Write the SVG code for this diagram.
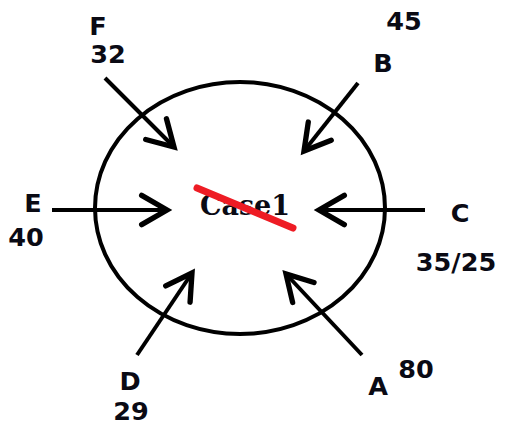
<svg xmlns="http://www.w3.org/2000/svg" width="505" height="426" viewBox="0 0 505 426">
<style>
.lbl{font-family:"DejaVu Sans","Liberation Sans",sans-serif;font-weight:bold;font-size:25.5px;fill:#0a0a14}
.conn{stroke:#000;stroke-width:4;fill:none;marker-end:url(#ah)}
</style>
<defs>
<marker id="ah" markerUnits="userSpaceOnUse" markerWidth="40" markerHeight="40" viewBox="-25 -15 30 30" refX="0" refY="0" orient="auto" overflow="visible">
<path d="M-19,-11 L0,0 L-19,11" fill="none" stroke="#000" stroke-width="4" stroke-linecap="round"/>
</marker>
</defs>
<rect width="505" height="426" fill="#fff"/>
<g id="case1">
<ellipse cx="240" cy="208" rx="145" ry="126" fill="none" stroke="#000" stroke-width="4"/>
<text x="245" y="215" text-anchor="middle" style="font-family:'DejaVu Serif','Liberation Serif',serif;font-weight:bold;font-size:27px;fill:#0a0a14">Case1</text>
<line x1="197" y1="188" x2="293" y2="228" stroke="#ee1c24" stroke-width="7" stroke-linecap="round"/>
</g>
<g id="connectors">
<line class="conn" x1="105" y1="78" x2="174" y2="147"/>
<line class="conn" x1="358" y1="83" x2="304" y2="151"/>
<line class="conn" x1="52" y1="210" x2="167" y2="210"/>
<line class="conn" x1="425" y1="210" x2="319" y2="210"/>
<line class="conn" x1="137" y1="355" x2="192" y2="273"/>
<line class="conn" x1="362" y1="355" x2="286" y2="274"/>
</g>
<g id="F"><text class="lbl" x="98" y="35" text-anchor="middle">F</text><text class="lbl" x="108" y="63" text-anchor="middle">32</text></g>
<g id="B"><text class="lbl" x="404" y="30" text-anchor="middle">45</text><text class="lbl" x="383" y="72" text-anchor="middle">B</text></g>
<g id="E"><text class="lbl" x="33" y="212" text-anchor="middle">E</text><text class="lbl" x="26" y="246" text-anchor="middle">40</text></g>
<g id="C"><text class="lbl" x="460" y="222" text-anchor="middle">C</text><text class="lbl" x="456" y="271" text-anchor="middle">35/25</text></g>
<g id="D"><text class="lbl" x="130" y="390" text-anchor="middle">D</text><text class="lbl" x="131" y="420" text-anchor="middle">29</text></g>
<g id="A"><text class="lbl" x="378" y="395" text-anchor="middle">A</text><text class="lbl" x="416" y="378" text-anchor="middle">80</text></g>
</svg>
